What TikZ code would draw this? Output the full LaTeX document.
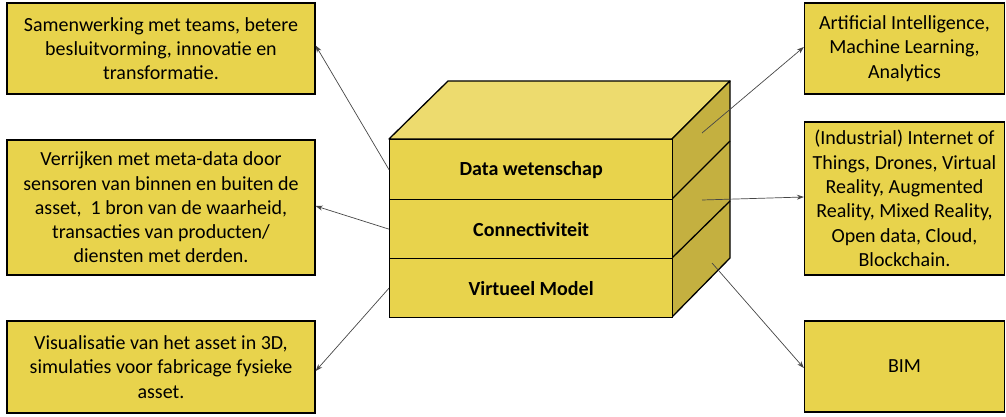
\documentclass[tikz,border=0pt]{standalone}
\usepackage{fontspec}
\setmainfont{Carlito}
\usetikzlibrary{arrows.meta}
\definecolor{boxfill}{RGB}{232,211,76}
\definecolor{topfill}{RGB}{237,219,110}
\definecolor{sidefill}{RGB}{196,176,64}
\definecolor{linkgray}{RGB}{70,70,70}
\tikzset{
  infobox/.style={draw=black, line width=1.3pt, fill=boxfill, align=center,
    inner sep=0pt, font=\fontsize{20}{24.3}\selectfont},
  leftbox/.style={infobox, minimum width=308pt},
  rightbox/.style={infobox, minimum width=200pt},
  layer/.style={draw=black, line width=1.3pt, fill=boxfill, minimum width=283pt,
    inner sep=0pt, font=\bfseries\fontsize{20}{24}\selectfont},
  faceline/.style={draw=black, line width=1.3pt, line join=round},
  link/.style={draw=linkgray, line width=0.7pt, -{Stealth[length=7pt,width=5pt]}}
}
\begin{document}
\begin{tikzpicture}[x=1pt,y=-1pt]
\useasboundingbox (0,0) rectangle (1006,417);
% cube: top and side faces
\draw[faceline, fill=topfill] (389,139) -- (448,81) -- (730,81) -- (672,139) -- cycle;
\draw[faceline, fill=sidefill] (672,139) -- (730,81) -- (730,258) -- (672,317) -- cycle;
\draw[faceline] (672,199) -- (730,141);
\draw[faceline] (672,258) -- (730,201);
% cube: front layers
\node[layer, minimum height=60pt, anchor=north west] (data) at (389,139) {Data wetenschap};
\node[layer, minimum height=59pt, anchor=north west] (conn) at (389,199) {Connectiviteit};
\node[layer, minimum height=59pt, anchor=north west] (model) at (389,258) {Virtueel Model};
% points on the side face where the right links start
\coordinate (sAI) at (702,133);
\coordinate (sIoT) at (702,200);
\coordinate (sBIM) at (712,263);
% left boxes
\node[leftbox, minimum height=91pt] (samen) at (161,48.5)
  {Samenwerking met teams, betere\\ besluitvorming, innovatie en\\ transformatie.};
\node[leftbox, minimum height=135pt] (verrijk) at (161,207.5)
  {Verrijken met meta-data door\\ sensoren van binnen en buiten de\\ asset,\ \ 1 bron van de waarheid,\\ transacties van producten/\\ diensten met derden.};
\node[leftbox, minimum height=92pt] (visual) at (161,367)
  {Visualisatie van het asset in 3D,\\ simulaties voor fabricage fysieke\\ asset.};
% right boxes
\node[rightbox, minimum height=91pt] (ai) at (904.5,48.5)
  {Artificial Intelligence,\\ Machine Learning,\\ Analytics};
\node[rightbox, minimum height=153pt] (iot) at (904.5,198.5)
  {(Industrial) Internet of\\ Things, Drones, Virtual\\ Reality, Augmented\\ Reality, Mixed Reality,\\ Open data, Cloud,\\ Blockchain.};
\node[rightbox, minimum height=91pt] (bim) at (904.5,366.5) {BIM};
% links
\draw[link] (data.west) -- ([yshift=3pt]samen.east);
\draw[link] (conn.west) -- ([yshift=1.5pt]verrijk.east);
\draw[link] (model.west) -- ([yshift=-4pt]visual.east);
\draw[link] (sAI) -- ([yshift=1.5pt]ai.west);
\draw[link] (sIoT) -- ([yshift=1.5pt]iot.west);
\draw[link] (sBIM) -- ([yshift=-1.5pt]bim.west);
\end{tikzpicture}
\end{document}
